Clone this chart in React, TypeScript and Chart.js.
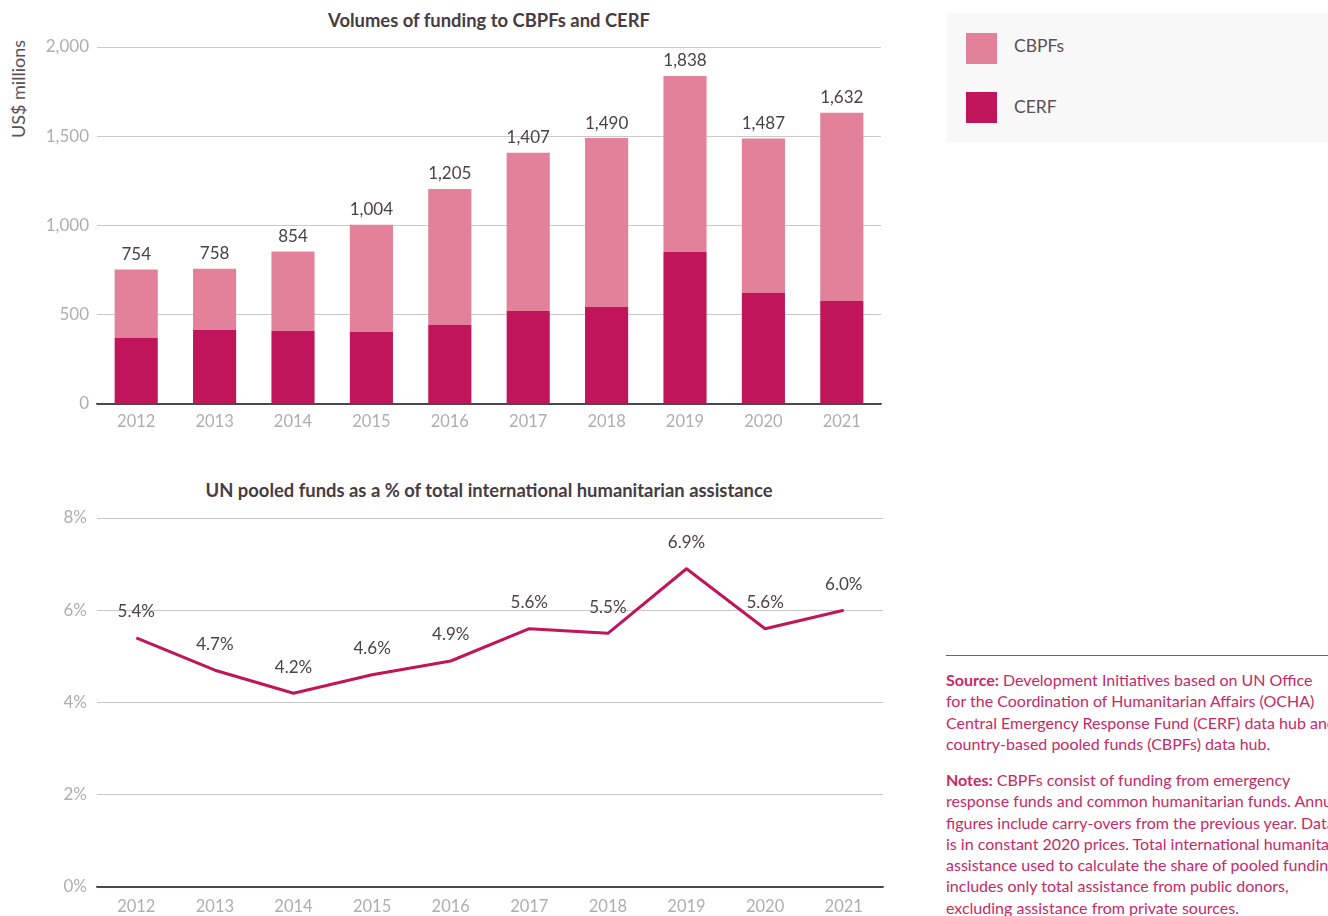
import React, { useEffect, useRef } from "react";
import { Chart, registerables } from "chart.js";

Chart.register(...registerables);

const years = ["2012", "2013", "2014", "2015", "2016", "2017", "2018", "2019", "2020", "2021"];
const cerfValues = [371, 414, 409, 403, 443, 521, 543, 851, 622, 577];
const cbpfValues = [383, 344, 445, 601, 762, 886, 947, 987, 865, 1055];
const sharePct = [5.4, 4.7, 4.2, 4.6, 4.9, 5.6, 5.5, 6.9, 5.6, 6.0];
const fundingTicks = [0, 500, 1000, 1500, 2000];
const shareTicks = [0, 2, 4, 6, 8];

const FONT = "Lato, 'Open Sans', sans-serif";
const PINK = "#e3819b";
const CRIMSON = "#c0155a";
const TICK_COLOR = "#b0adaf";
const LABEL_COLOR = "#4a4246";
const GRID_COLOR = "#c9c9c9";
const AXIS_COLOR = "#4f474b";

const barTotalsPlugin = {
  id: "barTotals",
  afterDatasetsDraw(chart: any) {
    const ctx = chart.ctx;
    const meta = chart.getDatasetMeta(chart.data.datasets.length - 1);
    ctx.save();
    ctx.font = `17px ${FONT}`;
    ctx.fillStyle = LABEL_COLOR;
    ctx.textAlign = "center";
    ctx.textBaseline = "middle";
    meta.data.forEach((el: any, i: number) => {
      const total = cerfValues[i] + cbpfValues[i];
      ctx.fillText(total.toLocaleString("en-US"), el.x, el.y - 15);
    });
    ctx.restore();
  },
};

const lineLabelsPlugin = {
  id: "lineLabels",
  afterDatasetsDraw(chart: any) {
    const ctx = chart.ctx;
    const meta = chart.getDatasetMeta(0);
    ctx.save();
    ctx.font = `17px ${FONT}`;
    ctx.fillStyle = LABEL_COLOR;
    ctx.textAlign = "center";
    ctx.textBaseline = "middle";
    meta.data.forEach((el: any, i: number) => {
      ctx.fillText(sharePct[i].toFixed(1) + "%", el.x, el.y - 26);
    });
    ctx.restore();
  },
};

export default function App() {
  const barRef = useRef<HTMLCanvasElement | null>(null);
  const lineRef = useRef<HTMLCanvasElement | null>(null);

  useEffect(() => {
    const bar = new Chart(barRef.current as HTMLCanvasElement, {
      type: "bar",
      data: {
        labels: years,
        datasets: [
          { label: "CERF", data: cerfValues, backgroundColor: CRIMSON, stack: "s" },
          { label: "CBPFs", data: cbpfValues, backgroundColor: PINK, stack: "s" },
        ],
      },
      options: {
        responsive: false,
        animation: false,
        layout: { padding: { top: 47, right: 19, left: 0, bottom: 0 } },
        plugins: { legend: { display: false }, tooltip: { enabled: false }, title: { display: false } },
        datasets: { bar: { categoryPercentage: 1, barPercentage: 0.55 } },
        scales: {
          x: {
            stacked: true,
            grid: { display: false, drawTicks: false },
            border: { display: true, color: AXIS_COLOR, width: 1.5 },
            ticks: { color: TICK_COLOR, font: { family: FONT, size: 16.5 }, padding: 8 },
            afterFit(scale: any) { scale.height = 30; },
          },
          y: {
            stacked: true,
            min: 0,
            max: 2000,
            afterBuildTicks(scale: any) { scale.ticks = fundingTicks.map((v) => ({ value: v })); },
            grid: {
              drawTicks: false,
              color: (c: any) => (c.tick && c.tick.value === 0 ? AXIS_COLOR : GRID_COLOR),
              lineWidth: 1,
            },
            border: { display: false },
            ticks: {
              color: TICK_COLOR,
              font: { family: FONT, size: 17 },
              padding: 8,
              callback: (v: any) => Number(v).toLocaleString("en-US"),
            },
            afterFit(scale: any) { scale.width = 97; },
          },
        },
      },
      plugins: [barTotalsPlugin],
    } as any);

    const line = new Chart(lineRef.current as HTMLCanvasElement, {
      type: "line",
      data: {
        labels: years,
        datasets: [
          {
            label: "Share",
            data: sharePct,
            borderColor: CRIMSON,
            borderWidth: 3,
            pointRadius: 0,
            tension: 0,
            borderJoinStyle: "round",
            fill: false,
          },
        ],
      },
      options: {
        responsive: false,
        animation: false,
        layout: { padding: { top: 48, right: 17, left: 0, bottom: 0 } },
        plugins: { legend: { display: false }, tooltip: { enabled: false }, title: { display: false } },
        scales: {
          x: {
            offset: true,
            grid: { display: false, drawTicks: false },
            border: { display: true, color: AXIS_COLOR, width: 1.5 },
            ticks: { color: TICK_COLOR, font: { family: FONT, size: 16.5 }, padding: 10 },
            afterFit(scale: any) { scale.height = 30; },
          },
          y: {
            min: 0,
            max: 8,
            afterBuildTicks(scale: any) { scale.ticks = shareTicks.map((v) => ({ value: v })); },
            grid: {
              drawTicks: false,
              color: (c: any) => (c.tick && c.tick.value === 0 ? AXIS_COLOR : GRID_COLOR),
              lineWidth: 1,
            },
            border: { display: false },
            ticks: {
              color: TICK_COLOR,
              font: { family: FONT, size: 17 },
              padding: 10,
              callback: (v: any) => `${v}%`,
            },
            afterFit(scale: any) { scale.width = 97; },
          },
        },
      },
      plugins: [lineLabelsPlugin],
    } as any);

    return () => {
      bar.destroy();
      line.destroy();
    };
  }, []);

  const titleStyle: React.CSSProperties = {
    position: "absolute",
    left: 97,
    width: 784,
    textAlign: "center",
    fontFamily: FONT,
    fontWeight: 700,
    fontSize: 18.4,
    lineHeight: "22px",
    color: "#473c42",
    whiteSpace: "nowrap",
  };

  const noteStyle: React.CSSProperties = {
    position: "absolute",
    left: 946,
    fontFamily: FONT,
    fontSize: 16,
    lineHeight: "21.3px",
    color: "#c62a68",
    whiteSpace: "nowrap",
  };

  return (
    <div
      style={{
        position: "fixed",
        left: 0,
        top: 0,
        width: 1328,
        height: 916,
        overflow: "hidden",
        background: "#ffffff",
      }}
    >
      <div style={{ ...titleStyle, top: 9 }}>Volumes of funding to CBPFs and CERF</div>
      <div style={{ ...titleStyle, top: 479 }}>
        UN pooled funds as a % of total international humanitarian assistance
      </div>

      <div
        style={{
          position: "absolute",
          left: 7,
          top: 138,
          transformOrigin: "0 0",
          transform: "rotate(-90deg)",
          fontFamily: FONT,
          fontSize: 18,
          lineHeight: "22px",
          color: "#5a5055",
          whiteSpace: "nowrap",
        }}
      >
        US$ millions
      </div>

      <canvas ref={barRef} width={900} height={434} style={{ position: "absolute", left: 0, top: 0 }} />
      <canvas ref={lineRef} width={900} height={447} style={{ position: "absolute", left: 0, top: 470 }} />

      <div
        style={{
          position: "absolute",
          left: 947,
          top: 13,
          width: 400,
          height: 129,
          background: "#f8f8f8",
        }}
      >
        <div style={{ position: "absolute", left: 19, top: 20, width: 31, height: 31, background: PINK }} />
        <div
          style={{
            position: "absolute",
            left: 67,
            top: 22,
            fontFamily: FONT,
            fontSize: 17.5,
            lineHeight: "22px",
            color: "#5a5055",
          }}
        >
          CBPFs
        </div>
        <div style={{ position: "absolute", left: 19, top: 79, width: 31, height: 31, background: CRIMSON }} />
        <div
          style={{
            position: "absolute",
            left: 67,
            top: 83,
            fontFamily: FONT,
            fontSize: 17.5,
            lineHeight: "22px",
            color: "#5a5055",
          }}
        >
          CERF
        </div>
      </div>

      <div style={{ position: "absolute", left: 946, top: 655, width: 400, height: 1, background: "#c9346f" }} />

      <div style={{ ...noteStyle, top: 669 }}>
        <b>Source:</b> Development Initiatives based on UN Office
        <br />
        for the Coordination of Humanitarian Affairs (OCHA)
        <br />
        Central Emergency Response Fund (CERF) data hub and
        <br />
        country-based pooled funds (CBPFs) data hub.
      </div>
      <div style={{ ...noteStyle, top: 769 }}>
        <b>Notes:</b> CBPFs consist of funding from emergency
        <br />
        response funds and common humanitarian funds. Annual
        <br />
        figures include carry-overs from the previous year. Data
        <br />
        is in constant 2020 prices. Total international humanitarian
        <br />
        assistance used to calculate the share of pooled funding
        <br />
        includes only total assistance from public donors,
        <br />
        excluding assistance from private sources.
      </div>
    </div>
  );
}
